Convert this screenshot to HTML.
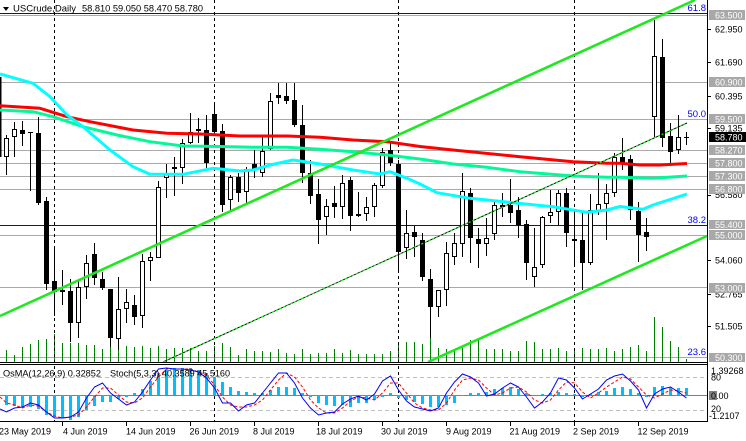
<!DOCTYPE html>
<html><head><meta charset="utf-8"><style>
html,body{margin:0;padding:0;background:#fff;}
body{width:746px;height:441px;overflow:hidden;}
svg{display:block;font-family:"Liberation Sans",Arial,sans-serif;}
</style></head><body>
<svg width="746" height="441" viewBox="0 0 746 441" xmlns="http://www.w3.org/2000/svg">
<defs>
<clipPath id="cm"><rect x="0" y="0" width="707" height="362"/></clipPath>
<clipPath id="ci"><rect x="0" y="365" width="707" height="56"/></clipPath>
</defs>
<rect width="746" height="441" fill="#fff"/>
<g clip-path="url(#cm)">
<!-- horizontal levels -->
<g fill="#aaaaaa">
<rect x="0" y="15" width="707" height="1"/><rect x="0" y="82" width="707" height="1"/><rect x="0" y="119" width="707" height="1"/><rect x="0" y="150" width="707" height="1"/><rect x="0" y="163" width="707" height="1"/><rect x="0" y="176" width="707" height="1"/><rect x="0" y="189" width="707" height="1"/><rect x="0" y="235" width="707" height="1"/><rect x="0" y="287" width="707" height="1"/><rect x="0" y="357" width="707" height="1"/>
</g>
<rect x="0" y="13" width="707" height="1" fill="#0000ff"/>
<rect x="0" y="225" width="707" height="1" fill="#0000ff"/>
<!-- volumes -->
<path stroke="#008000" stroke-width="1" fill="none" d="M6.5 362V350M14.5 362V355M22.5 362V347M30.5 362V344M38.5 362V340M46.5 362V339M54.5 362V334M62.5 362V343M70.5 362V343M78.5 362V343M86.5 362V345M94.5 362V345M102.5 362V349M110.5 362V342M118.5 362V340M126.5 362V346M134.5 362V347M142.5 362V346M150.5 362V348M158.5 362V346M166.5 362V349M174.5 362V348M182.5 362V348M190.5 362V348M198.5 362V351M206.5 362V351M214.5 362V346M222.5 362V343M230.5 362V347M238.5 362V355M246.5 362V349M254.5 362V351M262.5 362V351M270.5 362V352M278.5 362V349M286.5 362V353M294.5 362V354M302.5 362V349M310.5 362V354M318.5 362V353M326.5 362V353M334.5 362V349M342.5 362V353M350.5 362V350M358.5 362V354M366.5 362V354M374.5 362V354M382.5 362V354M390.5 362V351M398.5 362V342M406.5 362V342M414.5 362V342M422.5 362V344M430.5 362V337M438.5 362V348M446.5 362V349M454.5 362V349M462.5 362V347M470.5 362V340M478.5 362V340M486.5 362V349M494.5 362V349M502.5 362V349M510.5 362V351M518.5 362V351M526.5 362V341M534.5 362V342M542.5 362V349M550.5 362V349M558.5 362V348M566.5 362V351M574.5 362V351M582.5 362V348M590.5 362V349M598.5 362V349M606.5 362V348M614.5 362V351M622.5 362V349M630.5 362V347M638.5 362V345M646.5 362V351M654.5 362V317M662.5 362V327M670.5 362V341M678.5 362V347M686.5 362V359"/>
</g>
<!-- vertical dashed separators -->
<path stroke="#000" stroke-width="1" stroke-dasharray="3,3" fill="none" d="M54.5 0V422M214.5 0V422M398.5 0V422M574.5 0V422"/>
<g clip-path="url(#cm)">
<!-- candles -->
<rect x="0" y="77" width="1.5" height="80" fill="#000"/>
<path stroke="#000" stroke-width="1" fill="none" d="M6.5 135V175M14.5 122V157M22.5 121V146M30.5 132V191M38.5 117V205M46.5 197V290M54.5 246V316M62.5 270V305M70.5 279V342M78.5 279V338M86.5 255V299M94.5 243V285M102.5 272V290M110.5 289V347M118.5 277V350M126.5 289V323M134.5 295V325M142.5 254V328M150.5 252V281M158.5 181V258M166.5 164V198M174.5 157V196M182.5 139V184M190.5 113V144M198.5 118V143M206.5 115V168M214.5 102V135M222.5 124V212M230.5 175V210M238.5 173V202M246.5 167V203M254.5 150V178M262.5 137V177M270.5 93V150M278.5 83V104M286.5 83V104M294.5 83V127M302.5 105V183M310.5 160V204M318.5 179V244M326.5 199V235M334.5 186V218M342.5 175V219M350.5 177V231M358.5 192V217M366.5 197V221M374.5 183V217M382.5 148V188M390.5 143V166M398.5 160V273M406.5 210V259M414.5 226V257M422.5 233V281M430.5 269V338M438.5 290V317M446.5 242V306M454.5 233V265M462.5 173V257M470.5 188V263M478.5 228V268M486.5 218V256M494.5 200V240M502.5 193V217M510.5 179V223M518.5 197V238M526.5 220V280M534.5 228V287M542.5 216V268M550.5 190V223M558.5 190V225M566.5 188V247M574.5 210V265M582.5 213V290M590.5 194V265M598.5 173V215M606.5 184V240M614.5 153V197M622.5 138V170M630.5 155V220M638.5 202V262M646.5 218V251M654.5 20V137M662.5 39V147M670.5 123V166M678.5 115V154M686.5 132V145"/>
<path fill="#000" d="M20 130h5V134h-5zM28 132h5V133h-5zM36 133h5V203h-5zM44 201h5V284h-5zM52 281h5V292h-5zM60 290h5V292h-5zM68 291h5V323h-5zM92 254h5V278h-5zM100 279h5V288h-5zM108 289h5V338h-5zM132 305h5V317h-5zM172 167h5V169h-5zM204 130h5V163h-5zM212 114h5V132h-5zM220 131h5V205h-5zM236 177h5V193h-5zM252 164h5V170h-5zM276 95h5V98h-5zM284 96h5V101h-5zM292 100h5V125h-5zM300 125h5V173h-5zM308 173h5V196h-5zM316 194h5V220h-5zM332 203h5V207h-5zM348 180h5V216h-5zM356 214h5V216h-5zM388 150h5V163h-5zM396 164h5V252h-5zM412 232h5V237h-5zM420 240h5V277h-5zM428 279h5V307h-5zM468 193h5V238h-5zM476 239h5V244h-5zM500 205h5V207h-5zM508 205h5V213h-5zM516 210h5V225h-5zM524 224h5V263h-5zM564 193h5V233h-5zM572 239h5V241h-5zM580 240h5V263h-5zM620 157h5V164h-5zM628 159h5V210h-5zM636 211h5V235h-5zM644 232h5V237h-5zM660 57h5V138h-5zM668 136h5V152h-5zM684 137h5V138h-5z"/>
<g fill="#fff" stroke="#000" stroke-width="1">
<rect x="4.5" y="138.5" width="4" height="18"/><rect x="12.5" y="129.5" width="4" height="7"/><rect x="76.5" y="287.5" width="4" height="35"/><rect x="84.5" y="263.5" width="4" height="23"/><rect x="116.5" y="309.5" width="4" height="29"/><rect x="124.5" y="302.5" width="4" height="6"/><rect x="140.5" y="261.5" width="4" height="54"/><rect x="148.5" y="257.5" width="4" height="3"/><rect x="156.5" y="187.5" width="4" height="70"/><rect x="164.5" y="173.5" width="4" height="4"/><rect x="180.5" y="143.5" width="4" height="24"/><rect x="188.5" y="132.5" width="4" height="10"/><rect x="196.5" y="129.5" width="4" height="1"/><rect x="228.5" y="177.5" width="4" height="22"/><rect x="244.5" y="169.5" width="4" height="22"/><rect x="260.5" y="151.5" width="4" height="21"/><rect x="268.5" y="101.5" width="4" height="47"/><rect x="324.5" y="206.5" width="4" height="10"/><rect x="340.5" y="183.5" width="4" height="23"/><rect x="364.5" y="207.5" width="4" height="6"/><rect x="372.5" y="185.5" width="4" height="21"/><rect x="380.5" y="152.5" width="4" height="33"/><rect x="404.5" y="233.5" width="4" height="14"/><rect x="436.5" y="290.5" width="4" height="16"/><rect x="444.5" y="253.5" width="4" height="36"/><rect x="452.5" y="243.5" width="4" height="13"/><rect x="460.5" y="191.5" width="4" height="52"/><rect x="484.5" y="238.5" width="4" height="5"/><rect x="492.5" y="205.5" width="4" height="28"/><rect x="532.5" y="267.5" width="4" height="9"/><rect x="540.5" y="217.5" width="4" height="47"/><rect x="548.5" y="212.5" width="4" height="3"/><rect x="556.5" y="193.5" width="4" height="18"/><rect x="588.5" y="210.5" width="4" height="52"/><rect x="596.5" y="204.5" width="4" height="6"/><rect x="604.5" y="193.5" width="4" height="10"/><rect x="612.5" y="157.5" width="4" height="35"/><rect x="652.5" y="56.5" width="4" height="60"/><rect x="676.5" y="137.5" width="4" height="12"/>
</g>
<!-- moving averages -->
<polyline fill="none" stroke="#ff0000" stroke-width="3" stroke-linejoin="round" points="0,105.7 40,108.3 67,116.7 90,121.7 133,130 167,133.3 200,134 220,135 240,136 287,136 320,137.3 353,140 387,141.7 420,146.5 453,150 520,156.7 573,161.7 607,163.3 620,163.3 640,165 660,165 687,163.5"/>
<polyline fill="none" stroke="#00fa9a" stroke-width="3" stroke-linejoin="round" points="0,110 33,111.7 53,116.7 83,126.7 117,135 150,141.7 183,146 220,146.5 253,147.3 287,147.3 320,149.3 353,151.7 387,155 420,159 453,164 487,167.3 520,171.7 573,176 607,177.3 620,177.3 653,178.3 687,176"/>
<polyline fill="none" stroke="#00ffff" stroke-width="3" stroke-linejoin="round" points="0,74 33,83.3 50,96.7 67,115 83,126.7 110,150 133,166.7 150,174.3 183,174.3 213,168.3 240,171 253,170 270,165 293,160 320,164 353,170 380,174 390,171.7 407,178.3 420,184 437,192.7 470,198.3 513,202.7 553,206.7 587,212.3 607,210 620,206.5 643,209.3 653,205 687,194"/>
<!-- trend lines -->
<line x1="0" y1="316" x2="695" y2="0" stroke="#1ee81e" stroke-width="2.6"/>
<line x1="428" y1="362" x2="707" y2="236" stroke="#1ee81e" stroke-width="2.6"/>
<line x1="163" y1="362" x2="687" y2="123" stroke="#000" stroke-width="1"/>
<line x1="163" y1="362" x2="687" y2="123" stroke="#22ee22" stroke-width="1.2" stroke-dasharray="2,2"/>
</g>
<!-- fib labels -->
<g fill="#0000ff" font-size="9.5" text-anchor="end">
<text x="706" y="11">61.8</text>
<text x="706" y="117">50.0</text>
<text x="706" y="223">38.2</text>
<text x="706" y="355">23.6</text>
</g>
<!-- header -->
<polygon points="3,7 9,7 6,11" fill="#000"/>
<text x="13" y="11.3" font-size="9.4" textLength="63" lengthAdjust="spacingAndGlyphs">USCrude,Daily</text>
<text x="82" y="11.3" font-size="9.4" textLength="121" lengthAdjust="spacingAndGlyphs">58.810 59.050 58.470 58.780</text>

<!-- indicator panel -->
<g clip-path="url(#ci)">
<rect x="0" y="395" width="707" height="1" fill="#808080"/>
<path stroke="#c0c0c0" stroke-width="1" stroke-dasharray="4,3" d="M0 377.5H707M0 410.5H707"/>
<path fill="#00bfff" d="M5 395h3V405h-3zM13 395h3V406h-3zM21 395h3V407h-3zM29 395h3V407h-3zM37 395h3V409h-3zM45 395h3V415h-3zM53 395h3V417h-3zM61 395h3V418h-3zM69 395h3V420h-3zM77 395h3V417h-3zM85 395h3V410h-3zM93 395h3V406h-3zM101 395h3V402h-3zM109 395h3V402h-3zM117 395h3V399h-3zM125 395h3V397h-3zM133 395h3V393h-3zM141 395h3V389h-3zM149 395h3V381h-3zM157 395h3V373h-3zM165 395h3V370h-3zM173 395h3V368h-3zM181 395h3V368h-3zM189 395h3V368h-3zM197 395h3V370h-3zM205 395h3V373h-3zM213 395h3V377h-3zM221 395h3V382h-3zM229 395h3V387h-3zM237 395h3V391h-3zM245 395h3V392h-3zM253 395h3V393h-3zM261 395h3V393h-3zM269 395h3V390h-3zM277 395h3V387h-3zM285 395h3V387h-3zM293 395h3V388h-3zM301 395h3V393h-3zM309 395h3V397h-3zM317 395h3V403h-3zM325 395h3V405h-3zM333 395h3V406h-3zM341 395h3V405h-3zM349 395h3V407h-3zM357 395h3V403h-3zM365 395h3V403h-3zM373 395h3V400h-3zM381 395h3V397h-3zM389 395h3V393h-3zM397 395h3V398h-3zM405 395h3V400h-3zM413 395h3V402h-3zM421 395h3V404h-3zM429 395h3V407h-3zM437 395h3V407h-3zM445 395h3V405h-3zM453 395h3V403h-3zM461 395h3V396h-3zM469 395h3V393h-3zM477 395h3V393h-3zM485 395h3V392h-3zM493 395h3V389h-3zM501 395h3V388h-3zM509 395h3V387h-3zM517 395h3V389h-3zM525 395h3V393h-3zM541 395h3V394h-3zM549 395h3V393h-3zM557 395h3V392h-3zM565 395h3V393h-3zM573 395h3V394h-3zM581 395h3V397h-3zM589 395h3V394h-3zM597 395h3V392h-3zM605 395h3V391h-3zM613 395h3V388h-3zM621 395h3V387h-3zM629 395h3V389h-3zM637 395h3V393h-3zM645 395h3V397h-3zM653 395h3V387h-3zM661 395h3V386h-3zM669 395h3V387h-3zM677 395h3V388h-3zM685 395h3V388h-3z"/>
<polyline fill="none" stroke="#ff0000" stroke-width="1" stroke-dasharray="3,2" points="0,397 6.5,403 14.5,405 22.5,408 30.5,405 38.5,406 46.5,412 54.5,416 62.5,418 70.5,417 78.5,415 86.5,407 94.5,397 102.5,388 110.5,388 118.5,395 126.5,402 134.5,403 142.5,398 150.5,387 158.5,377 166.5,369 174.5,369 182.5,369 190.5,369 198.5,372 206.5,375 214.5,385 222.5,397 230.5,405 238.5,407 246.5,407 254.5,405 262.5,400 270.5,390 278.5,380 286.5,373 294.5,377 302.5,387 310.5,400 318.5,408 326.5,413 334.5,413 342.5,408 350.5,401 358.5,397 366.5,398 374.5,400 382.5,393 390.5,383 398.5,383 406.5,393 414.5,403 422.5,408 430.5,410 438.5,410 446.5,403 454.5,390 462.5,380 470.5,378 478.5,380 486.5,388 494.5,395 502.5,393 510.5,388 518.5,387 526.5,392 534.5,400 542.5,403 550.5,400 558.5,390 566.5,382 574.5,383 582.5,392 590.5,398 598.5,393 606.5,387 614.5,382 622.5,377 630.5,379 638.5,387 646.5,395 654.5,398 662.5,394 670.5,390 678.5,391 686.5,393"/>
<polyline fill="none" stroke="#0000ff" stroke-width="1" points="0,409 6.5,412 14.5,408 22.5,407 30.5,403 38.5,405 46.5,412 54.5,418 62.5,418 70.5,417 78.5,412 86.5,398 94.5,387 102.5,383 110.5,393 118.5,399 126.5,405 134.5,402 142.5,392 150.5,380 158.5,369 166.5,368 174.5,369 182.5,369 190.5,370 198.5,372 206.5,378 214.5,388 222.5,403 230.5,403 238.5,411 246.5,405 254.5,403 262.5,393 270.5,383 278.5,373 286.5,373 294.5,383 302.5,398 310.5,408 318.5,415 326.5,413 334.5,412 342.5,404 350.5,399 358.5,396 366.5,400 374.5,394 382.5,381 390.5,376 398.5,390 406.5,401 414.5,407 422.5,409 430.5,411 438.5,408 446.5,393 454.5,382 462.5,374 470.5,377 478.5,383 486.5,396 494.5,394 502.5,388 510.5,383 518.5,387 526.5,397 534.5,408 542.5,402 550.5,393 558.5,378 566.5,380 574.5,388 582.5,399 590.5,394 598.5,389 606.5,380 614.5,376 622.5,374 630.5,381 638.5,390 646.5,408 654.5,394 662.5,389 670.5,387 678.5,392 686.5,398"/>
<text x="3" y="376.5" font-size="9.4" textLength="98" lengthAdjust="spacingAndGlyphs">OsMA(12,26,9) 0.32852</text>
<text x="110" y="376.5" font-size="9.4" textLength="120" lengthAdjust="spacingAndGlyphs">Stoch(5,3,3) 40.3589 45.5160</text>
</g>

<!-- panel borders -->
<g fill="#000">
<rect x="0" y="362" width="708" height="1"/>
<rect x="0" y="364" width="708" height="1"/>
<rect x="0" y="421" width="708" height="1"/>
<rect x="707" y="0" width="1" height="422"/>
</g>

<!-- price axis -->
<g font-size="9" fill="#000">
<path stroke="#000" stroke-width="1" d="M708 29.5h3M708 62.5h3M708 96.5h3M708 128.5h3M708 195.5h3M708 260.5h3M708 294.5h3M708 326.5h3"/>
<text x="715" y="32.5">62.950</text>
<text x="715" y="65.5">61.690</text>
<text x="715" y="99.5">60.395</text>
<text x="715" y="131.5">59.135</text>
<text x="715" y="198">56.580</text>
<text x="715" y="263.5">54.060</text>
<text x="715" y="297.5">52.765</text>
<text x="715" y="329.5">51.505</text>
</g>
<g fill="#a8a8a8">
<rect x="709" y="10" width="36" height="10"/>
<rect x="709" y="77" width="36" height="10"/>
<rect x="709" y="114" width="36" height="10"/>
<rect x="709" y="145" width="36" height="10"/>
<rect x="709" y="158" width="36" height="10"/>
<rect x="709" y="171" width="36" height="10"/>
<rect x="709" y="184" width="36" height="10"/>
<rect x="709" y="220" width="36" height="9"/>
<rect x="709" y="230" width="36" height="10"/>
<rect x="709" y="283" width="36" height="10"/>
<rect x="709" y="353" width="36" height="9"/>
</g>
<rect x="709" y="132" width="37" height="10" fill="#000"/>
<g font-size="9" fill="#fff">
<text x="715" y="18.5">63.500</text>
<text x="715" y="85.5">60.900</text>
<text x="715" y="122.5">59.500</text>
<text x="715" y="140.5">58.780</text>
<text x="715" y="153.5">58.270</text>
<text x="715" y="166.5">57.800</text>
<text x="715" y="179.5">57.300</text>
<text x="715" y="192.5">56.800</text>
<text x="715" y="228">55.400</text>
<text x="715" y="238.5">55.000</text>
<text x="715" y="291.5">53.000</text>
<text x="715" y="361">50.300</text>
</g>

<!-- indicator axis -->
<rect x="709" y="391" width="8" height="9" fill="#808080"/>
<g font-size="9" fill="#000">
<text x="711" y="374">1.39268</text>
<text x="711" y="380.5">80</text>
<text x="711" y="399">0.00</text>
<text x="711" y="412">20</text>
<text x="709" y="419">-1.2107</text>
</g>

<!-- time axis -->
<path stroke="#000" stroke-width="1" d="M62.5 422v4M126.5 422v4M190.5 422v4M254.5 422v4M318.5 422v4M382.5 422v4M446.5 422v4M510.5 422v4M574.5 422v4M638.5 422v4"/>
<g font-size="9" fill="#000">
<text x="-1" y="434.5">23 May 2019</text>
<text x="63" y="434.5">4 Jun 2019</text>
<text x="126" y="434.5">14 Jun 2019</text>
<text x="189.5" y="434.5">26 Jun 2019</text>
<text x="253" y="434.5">8 Jul 2019</text>
<text x="316" y="434.5">18 Jul 2019</text>
<text x="381" y="434.5">30 Jul 2019</text>
<text x="446" y="434.5">9 Aug 2019</text>
<text x="509.5" y="434.5">21 Aug 2019</text>
<text x="573" y="434.5">2 Sep 2019</text>
<text x="637.5" y="434.5">12 Sep 2019</text>
</g>
</svg>
</body></html>
